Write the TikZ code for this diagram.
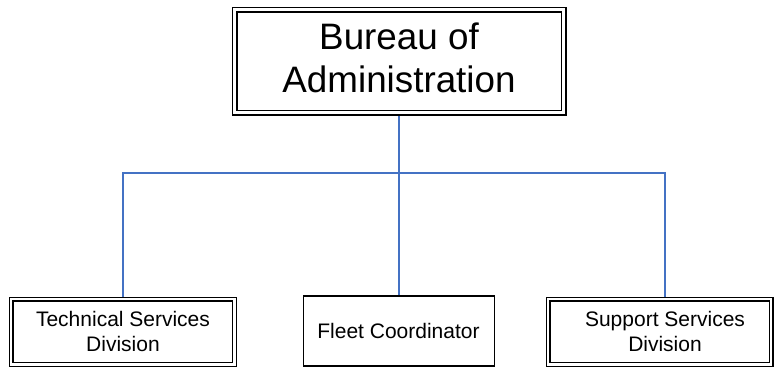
\documentclass[tikz,border=0pt]{standalone}
\usepackage{fontspec}
\setmainfont{Liberation Sans}
\usetikzlibrary{backgrounds}
\definecolor{linkblue}{RGB}{68,114,196}
\begin{document}
\begin{tikzpicture}[x=1pt,y=-1pt,
  dbox/.style={draw=black, fill=white, line width=1.2pt, double=white,
               double distance=2.6pt, inner sep=0pt},
  sbox/.style={draw=black, fill=white, line width=1.3pt, inner sep=0pt},
  titletext/.style={font=\fontsize{36.8}{43}\selectfont, align=center, inner sep=0pt},
  unittext/.style={font=\fontsize{21}{25}\selectfont, align=center, inner sep=0pt},
  link/.style={draw=linkblue, line width=1.6pt}]
\useasboundingbox (0,0) rectangle (775,367);

% boxes
\node[dbox, double distance=3.6pt, minimum width=329pt, minimum height=103pt] (bureau) at (399,61) {};
\node[dbox, minimum width=223.5pt, minimum height=65.5pt] (tech) at (122.75,331.75) {};
\node[sbox, minimum width=191pt, minimum height=70pt] (fleet) at (399,331) {};
\node[dbox, minimum width=223pt, minimum height=65.5pt] (support) at (659.5,331.75) {};

% labels
\node[titletext] (bureautext) at (399,58) {Bureau of\\Administration};
\node[unittext] (techtext) at (123,331.5) {Technical Services\\Division};
\node[unittext] (fleettext) at (398.5,330.5) {Fleet Coordinator};
\node[unittext] (supporttext) at (665,331.5) {Support Services\\Division};

% reporting lines, drawn behind the boxes
\coordinate (bus) at (399,173);
\begin{scope}[on background layer]
  \draw[link] (bureau.south) -- (fleet.north);
  \draw[link] (tech.north -| techtext) |- (bus) -| (support.north -| supporttext);
\end{scope}
\end{tikzpicture}
\end{document}
